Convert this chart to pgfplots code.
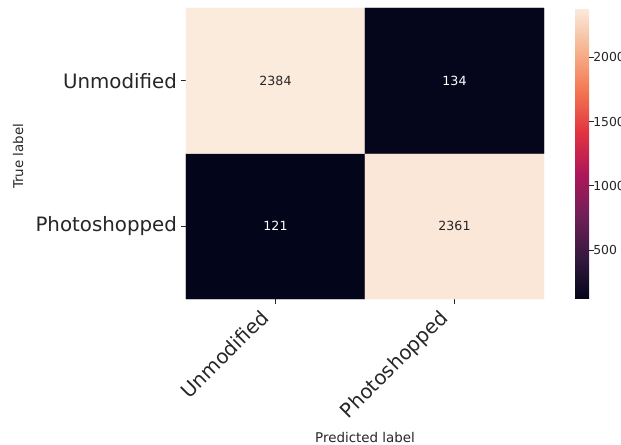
\documentclass[border=0pt]{standalone}
\usepackage{fontspec}
\setmainfont{DejaVu Sans}
\usepackage{pgfplots}
\pgfplotsset{compat=1.18}
\definecolor{txt}{HTML}{262626}
\begin{document}
\begin{tikzpicture}
\begin{axis}[
  at={(0,0)}, anchor=south west,
  scale only axis, width=358bp, height=291bp,
  xmin=-0.5, xmax=1.5, ymin=-0.5, ymax=1.5,
  enlargelimits=false,
  axis line style={draw=none},
  xtick={0,1}, ytick={0,1},
  xticklabels={Unmodified,Photoshopped},
  yticklabels={Photoshopped,Unmodified},
  tick align=outside, xtick pos=lower, ytick pos=left,
  major tick length=4.6bp,
  tick style={txt, line width=1.05bp},
  ticklabel style={font=\fontsize{19.8bp}{23bp}\selectfont, text=txt},
  xticklabel style={rotate=45, anchor=north east, xshift=-11.4bp, yshift=11.5bp},
  yticklabel style={anchor=east, xshift=-1bp},
  xlabel={Predicted label}, ylabel={True label},
  label style={font=\fontsize{13.4bp}{15bp}\selectfont, text=txt},
  xlabel style={at={(axis description cs:0.5,-0.475)}, anchor=center},
  ylabel style={at={(axis description cs:-0.469,0.49)}, anchor=center},
  colormap={rocket}{rgb255=(3,5,26) rgb255=(53,25,62) rgb255=(112,31,87) rgb255=(173,23,89) rgb255=(225,51,66) rgb255=(243,118,81) rgb255=(246,180,143) rgb255=(250,235,221)},
  point meta min=121, point meta max=2384,
  colorbar,
  colorbar style={
    width=14bp,
    at={(parent axis.north east)}, anchor=north west, xshift=22.7bp,
    axis line style={draw=none},
    ytick={500,1000,1500,2000},
    yticklabels={500,1000,1500,2000},
    yticklabel style={font=\fontsize{12.4bp}{15bp}\selectfont, text=txt, xshift=-4bp},
    major tick length=4.6bp, tick style={txt, line width=1.05bp},
    tick align=outside, ytick pos=right,
  },
]
\addplot[matrix plot*, mesh/cols=2, mesh/rows=2, point meta=explicit] coordinates {
  (0,0) [121] (1,0) [2361]
  (0,1) [2384] (1,1) [134]
};
\addplot[only marks, mark=none, point meta=explicit symbolic, nodes near coords,
  nodes near coords style={font=\fontsize{12.6bp}{15bp}\selectfont, text=white, anchor=center}]
  coordinates {(0,0)[121] (1,1)[134]};
\addplot[only marks, mark=none, point meta=explicit symbolic, nodes near coords,
  nodes near coords style={font=\fontsize{12.6bp}{15bp}\selectfont, text=txt, anchor=center}]
  coordinates {(0,1)[2384] (1,0)[2361]};
\end{axis}
\pgfresetboundingbox
\path[use as bounding box] (-186bp,-146bp) rectangle (435bp,299bp);
\end{tikzpicture}
\end{document}
